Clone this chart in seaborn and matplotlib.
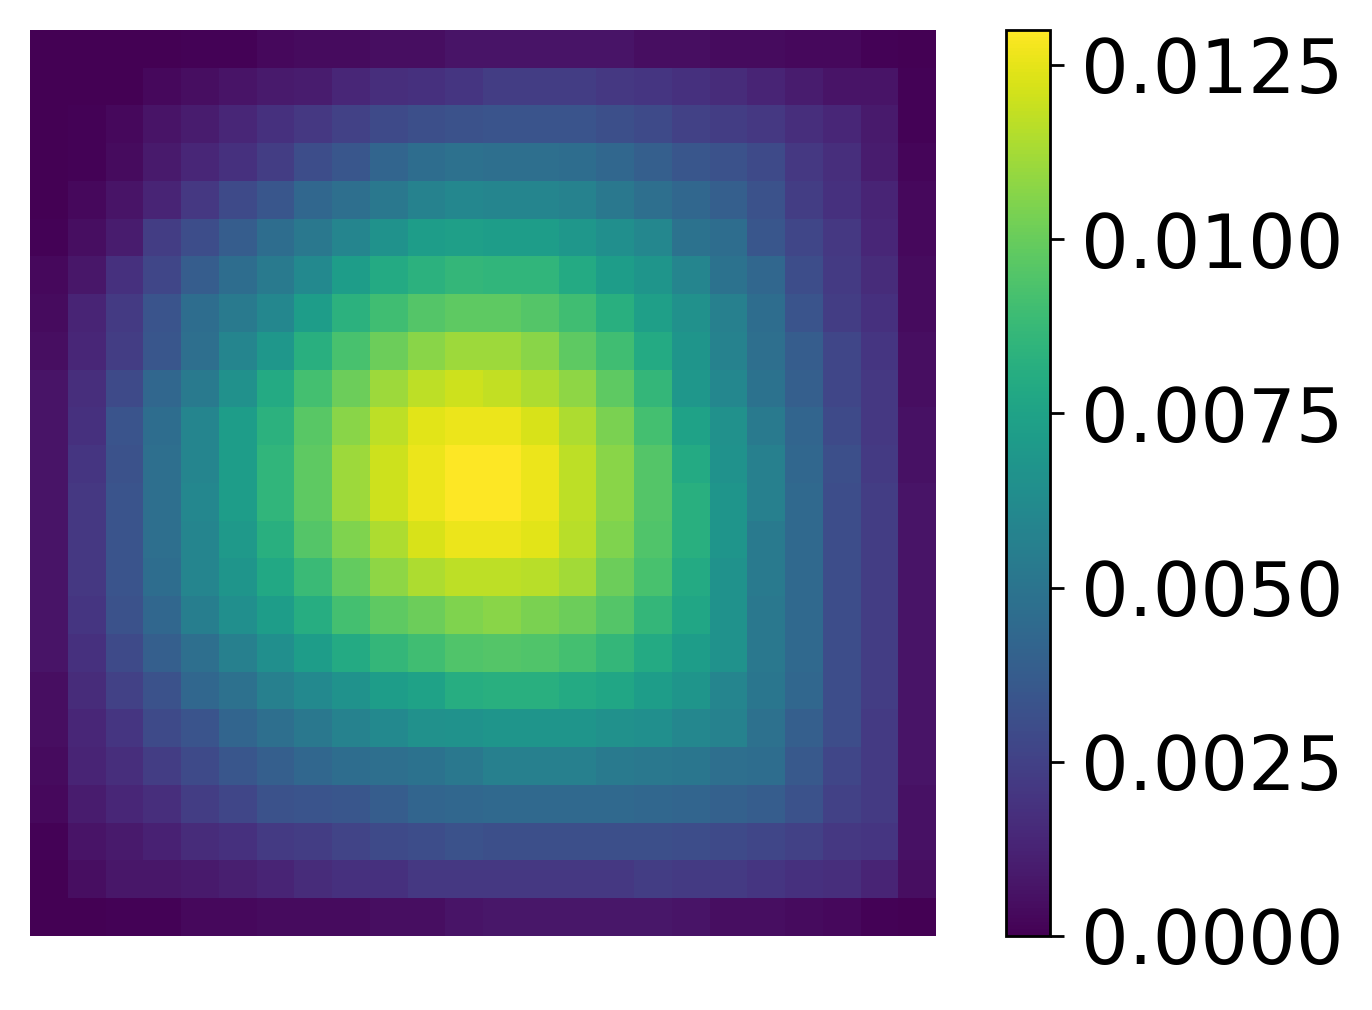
import numpy as np
import matplotlib
matplotlib.use("Agg")
import matplotlib.pyplot as plt
from matplotlib.ticker import FormatStrFormatter
import seaborn as sns

# --- data: cell values, in units of 1e-4 ---
density = [
    [0, 0, 0, 0, 1, 1, 3, 4, 4, 5, 5, 7, 7, 7, 7, 7, 5, 5, 4, 4, 3, 3, 1, 0],
    [0, 0, 0, 3, 5, 7, 9, 10, 14, 17, 18, 20, 23, 23, 23, 21, 20, 18, 16, 13, 10, 7, 7, 1],
    [0, 1, 3, 7, 10, 14, 18, 21, 25, 29, 31, 33, 34, 34, 34, 31, 29, 25, 23, 21, 17, 14, 9, 1],
    [0, 1, 4, 9, 14, 18, 23, 30, 35, 42, 46, 48, 47, 47, 46, 43, 39, 35, 33, 29, 21, 17, 10, 2],
    [0, 3, 7, 13, 21, 29, 35, 43, 47, 52, 57, 60, 59, 59, 57, 52, 47, 43, 39, 33, 23, 18, 13, 3],
    [1, 5, 10, 23, 30, 38, 46, 52, 59, 66, 72, 73, 72, 72, 69, 64, 60, 49, 46, 35, 27, 21, 14, 3],
    [3, 8, 18, 27, 38, 46, 53, 61, 72, 79, 83, 86, 85, 85, 79, 72, 68, 59, 49, 43, 30, 22, 16, 4],
    [4, 13, 22, 34, 46, 53, 60, 72, 83, 90, 95, 98, 98, 95, 90, 82, 73, 65, 56, 46, 34, 23, 18, 4],
    [5, 14, 23, 35, 47, 59, 69, 82, 92, 101, 107, 111, 111, 107, 98, 90, 79, 68, 57, 47, 38, 27, 20, 5],
    [7, 17, 29, 43, 53, 65, 79, 91, 101, 111, 117, 120, 118, 114, 108, 98, 86, 69, 60, 49, 39, 27, 21, 5],
    [7, 18, 34, 46, 59, 72, 83, 96, 107, 117, 124, 126, 126, 122, 114, 104, 91, 75, 65, 53, 42, 29, 21, 6],
    [7, 20, 33, 47, 59, 72, 85, 98, 111, 120, 126, 130, 130, 126, 117, 107, 95, 79, 66, 56, 43, 31, 22, 6],
    [7, 21, 34, 47, 60, 72, 85, 98, 111, 120, 126, 130, 130, 126, 117, 107, 95, 82, 68, 56, 44, 30, 23, 7],
    [7, 21, 34, 47, 59, 70, 82, 95, 105, 114, 122, 126, 126, 124, 116, 105, 94, 82, 68, 53, 44, 30, 23, 7],
    [7, 21, 34, 46, 59, 68, 78, 88, 99, 108, 114, 117, 117, 116, 112, 101, 92, 79, 66, 53, 44, 30, 23, 7],
    [7, 20, 33, 43, 55, 64, 72, 81, 91, 98, 101, 105, 107, 104, 101, 95, 86, 77, 66, 52, 44, 30, 23, 7],
    [7, 18, 29, 39, 47, 56, 64, 72, 79, 86, 90, 94, 95, 94, 91, 86, 79, 72, 66, 52, 44, 30, 23, 7],
    [5, 16, 25, 33, 43, 48, 56, 61, 66, 72, 75, 81, 82, 82, 79, 77, 72, 68, 59, 51, 43, 30, 23, 7],
    [5, 14, 20, 29, 34, 42, 47, 52, 57, 61, 65, 66, 68, 68, 68, 65, 64, 60, 57, 48, 39, 30, 22, 7],
    [4, 13, 17, 23, 29, 35, 39, 43, 46, 47, 49, 52, 56, 56, 56, 53, 52, 51, 47, 46, 36, 27, 22, 7],
    [3, 10, 14, 17, 23, 27, 33, 34, 35, 38, 42, 43, 44, 44, 44, 44, 43, 42, 40, 38, 33, 25, 22, 6],
    [1, 7, 9, 12, 16, 18, 22, 23, 26, 29, 30, 33, 31, 31, 31, 31, 31, 30, 29, 27, 25, 21, 20, 6],
    [0, 5, 8, 8, 9, 11, 13, 16, 18, 18, 21, 21, 21, 21, 21, 21, 23, 22, 22, 20, 18, 17, 13, 5],
    [0, 0, 1, 1, 3, 3, 4, 4, 4, 5, 5, 7, 8, 8, 8, 8, 8, 7, 5, 5, 4, 3, 1, 0],
]
cbar_ticks = [0.0, 0.0025, 0.005, 0.0075, 0.01, 0.0125]


def main():
    values = np.array(density, dtype=float) * 1e-4

    fig = plt.figure(figsize=(6.86, 5.05), dpi=200)
    ax = fig.add_axes([0.02187, 0.07327, 0.66035, 0.89703])
    cax = fig.add_axes([0.73324, 0.07327, 0.03207, 0.89703])

    sns.heatmap(values, cmap="viridis", vmin=0, ax=ax, cbar_ax=cax,
                xticklabels=False, yticklabels=False)
    ax.set_xticks([])
    ax.set_yticks([])

    cbar = ax.collections[0].colorbar
    cbar.outline.set_linewidth(1.0)
    cbar.outline.set_edgecolor("black")
    cbar.set_ticks(cbar_ticks)
    cbar.ax.yaxis.set_major_formatter(FormatStrFormatter("%.4f"))
    cbar.ax.tick_params(labelsize=27, length=5, width=1, color="black", pad=6)

    fig.savefig("out.png", dpi=200)


if __name__ == "__main__":
    main()
